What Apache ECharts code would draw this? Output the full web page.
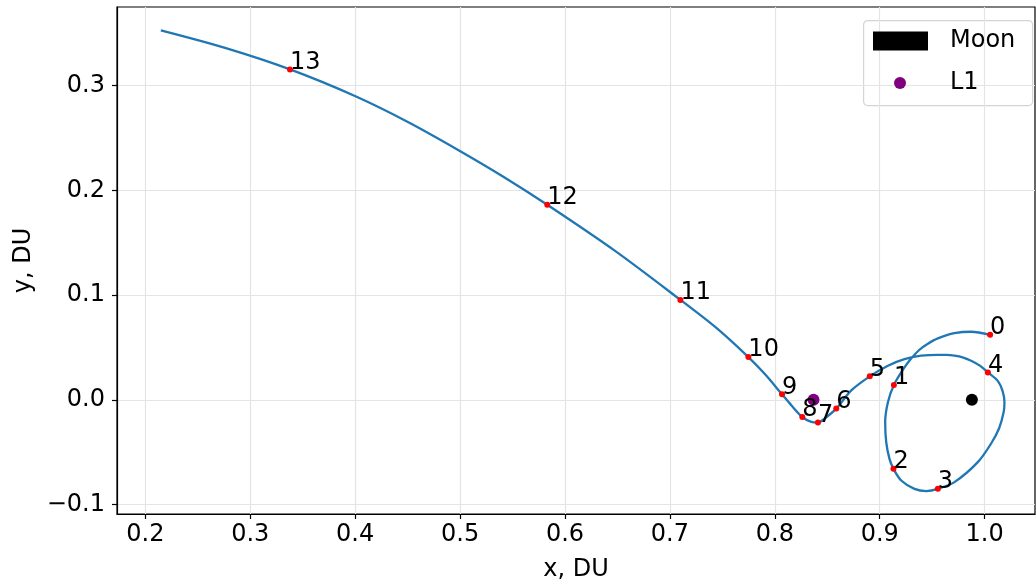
<!DOCTYPE html>
<html>
<head>
<meta charset="utf-8">
<script src="https://cdn.jsdelivr.net/npm/echarts@6/dist/echarts.min.js"></script>
<style>
  html, body { margin: 0; padding: 0; background: #fff; }
  #chart { width: 1036px; height: 584px; }
</style>
</head>
<body>
<div id="chart"></div>
<script>
// Transfer trajectory in the rotated Earth–Moon frame (distance units)
const trajX = [
  1.0052, 0.9871, 0.9712, 0.9554, 0.9459, 0.9379, 0.9300, 0.9236, 0.9135,
  0.9078, 0.9052, 0.9062, 0.9093, 0.9131, 0.9205, 0.9331, 0.9443, 0.9554,
  0.9712, 0.9935, 1.0062, 1.0138, 1.0181, 1.0189, 1.0172, 1.0125, 1.0031,
  0.9958, 0.9871, 0.9790, 0.9712, 0.9633, 0.9554, 0.9395, 0.9236, 0.9078,
  0.8905, 0.8729, 0.8586, 0.8474, 0.8411, 0.8348, 0.8262, 0.8157, 0.8069,
  0.7903, 0.7748, 0.7443, 0.7100, 0.6474, 0.5831, 0.5424, 0.4998, 0.4507,
  0.3998, 0.3379, 0.2760, 0.2148
];
const trajY = [
  0.0621, 0.0650, 0.0636, 0.0586, 0.0535, 0.0478, 0.0395, 0.0310, 0.0141,
  -0.0024, -0.0214, -0.0405, -0.0564, -0.0659, -0.0770, -0.0850, -0.0871, -0.0850,
  -0.0786, -0.0595, -0.0417, -0.0271, -0.0119, -0.0024, 0.0081, 0.0181, 0.0262,
  0.0324, 0.0373, 0.0405, 0.0421, 0.0429, 0.0430, 0.0421, 0.0389, 0.0326,
  0.0224, 0.0090, -0.0084, -0.0179, -0.0217, -0.0211, -0.0164, -0.0052, 0.0052,
  0.0248, 0.0408, 0.0686, 0.0954, 0.1424, 0.1862, 0.2123, 0.2376, 0.2650,
  0.2900, 0.3154, 0.3359, 0.3526
];

// Numbered sample points along the trajectory
const stepLabels = ['0','1','2','3','4','5','6','7','8','9','10','11','12','13'];
const stepX = [1.0052, 0.9135, 0.9131, 0.9554, 1.0031, 0.8905, 0.8586, 0.8411, 0.8262, 0.8069, 0.7748, 0.7100, 0.5831, 0.3379];
const stepY = [0.0621, 0.0141, -0.0659, -0.0850, 0.0262, 0.0224, -0.0084, -0.0217, -0.0164, 0.0052, 0.0408, 0.0954, 0.1862, 0.3154];

// Bodies and libration point
const moonPos = [0.98785, 0.0];
const l1Pos = [0.8369, 0.0];

// Axis ticks
const xTicks = [0.2, 0.3, 0.4, 0.5, 0.6, 0.7, 0.8, 0.9, 1.0];
const yTicks = [-0.1, 0.0, 0.1, 0.2, 0.3];

const FONT = 'DejaVu Sans';
const fmt = v => (v < 0 ? '\u2212' : '') + Math.abs(v).toFixed(1);

const chart = echarts.init(document.getElementById('chart'), null, { renderer: 'canvas' });

const trajData = trajX.map((x, i) => [x, trajY[i]]);
const stepData = stepX.map((x, i) => ({ value: [x, stepY[i]], label: { formatter: stepLabels[i] } }));

const axisCommon = {
  type: 'value',
  axisLine: { show: true, onZero: false, lineStyle: { color: '#000', width: 1.2 } },
  axisTick: { show: true, inside: false, length: 5, lineStyle: { color: '#000', width: 1.2 } },
  splitLine: { show: true, lineStyle: { color: '#e4e4e4', width: 1.2 } },
  nameTextStyle: { fontFamily: FONT, fontSize: 24, color: '#000' }
};

chart.setOption({
  animation: false,
  backgroundColor: '#fff',
  grid: {
    left: 117, right: 1, top: 7, bottom: 70,
    outerBoundsMode: 'none', containLabel: false,
    show: true, borderColor: '#000', borderWidth: 1.2, backgroundColor: 'transparent'
  },
  xAxis: Object.assign({}, axisCommon, {
    min: 0.173, max: 1.048,
    name: 'x, DU', nameLocation: 'middle', nameGap: 44,
    axisTick: Object.assign({}, axisCommon.axisTick, { customValues: xTicks }),
    axisLabel: {
      customValues: xTicks, formatter: fmt, margin: 9,
      fontFamily: FONT, fontSize: 24, color: '#000'
    }
  }),
  yAxis: Object.assign({}, axisCommon, {
    min: -0.109, max: 0.375,
    name: 'y, DU', nameLocation: 'middle', nameGap: 80, nameRotate: 90,
    axisTick: Object.assign({}, axisCommon.axisTick, { customValues: yTicks }),
    axisLabel: {
      customValues: yTicks, formatter: fmt, margin: 12,
      fontFamily: FONT, fontSize: 24, color: '#000'
    }
  }),
  legend: [
    {
      data: [{ name: 'Moon', icon: 'rect' }],
      left: 873, top: 29, padding: 0, orient: 'vertical',
      itemWidth: 55, itemHeight: 19,
      textStyle: { fontFamily: FONT, fontSize: 24, color: '#000', padding: [0, 0, 0, 17], lineHeight: 24 },
      selectedMode: false
    },
    {
      data: [{ name: 'L1', icon: 'circle' }],
      left: 894, top: 71, padding: 0, orient: 'vertical',
      itemWidth: 12, itemHeight: 12,
      textStyle: { fontFamily: FONT, fontSize: 24, color: '#000', padding: [0, 0, 0, 39], lineHeight: 24 },
      selectedMode: false
    }
  ],
  graphic: [{
    type: 'rect', left: 863, top: 20, z: 0,
    shape: { width: 169, height: 85, r: 4 },
    style: { fill: 'rgba(255,255,255,0.8)', stroke: '#d4d4d4', lineWidth: 1.2 }
  }],
  series: [
    {
      name: 'trajectory', type: 'line', data: trajData,
      smooth: 0.3, showSymbol: false, symbol: 'none',
      lineStyle: { color: '#1f77b4', width: 2.3 }, z: 2
    },
    {
      name: 'Moon', type: 'scatter', data: [moonPos],
      symbol: 'circle', symbolSize: 12, itemStyle: { color: '#000', opacity: 1 }, z: 3
    },
    {
      name: 'L1', type: 'scatter', data: [l1Pos],
      symbol: 'circle', symbolSize: 12, itemStyle: { color: '#800080', opacity: 1 }, z: 3
    },
    {
      name: 'steps', type: 'scatter', data: stepData,
      symbol: 'circle', symbolSize: 6, itemStyle: { color: '#ff0000', opacity: 1 }, z: 4,
      label: {
        show: true, position: [3, 3], align: 'left', verticalAlign: 'bottom',
        offset: [0, 5],
        fontFamily: FONT, fontSize: 24, color: '#000', lineHeight: 24
      }
    }
  ]
});
</script>
</body>
</html>
